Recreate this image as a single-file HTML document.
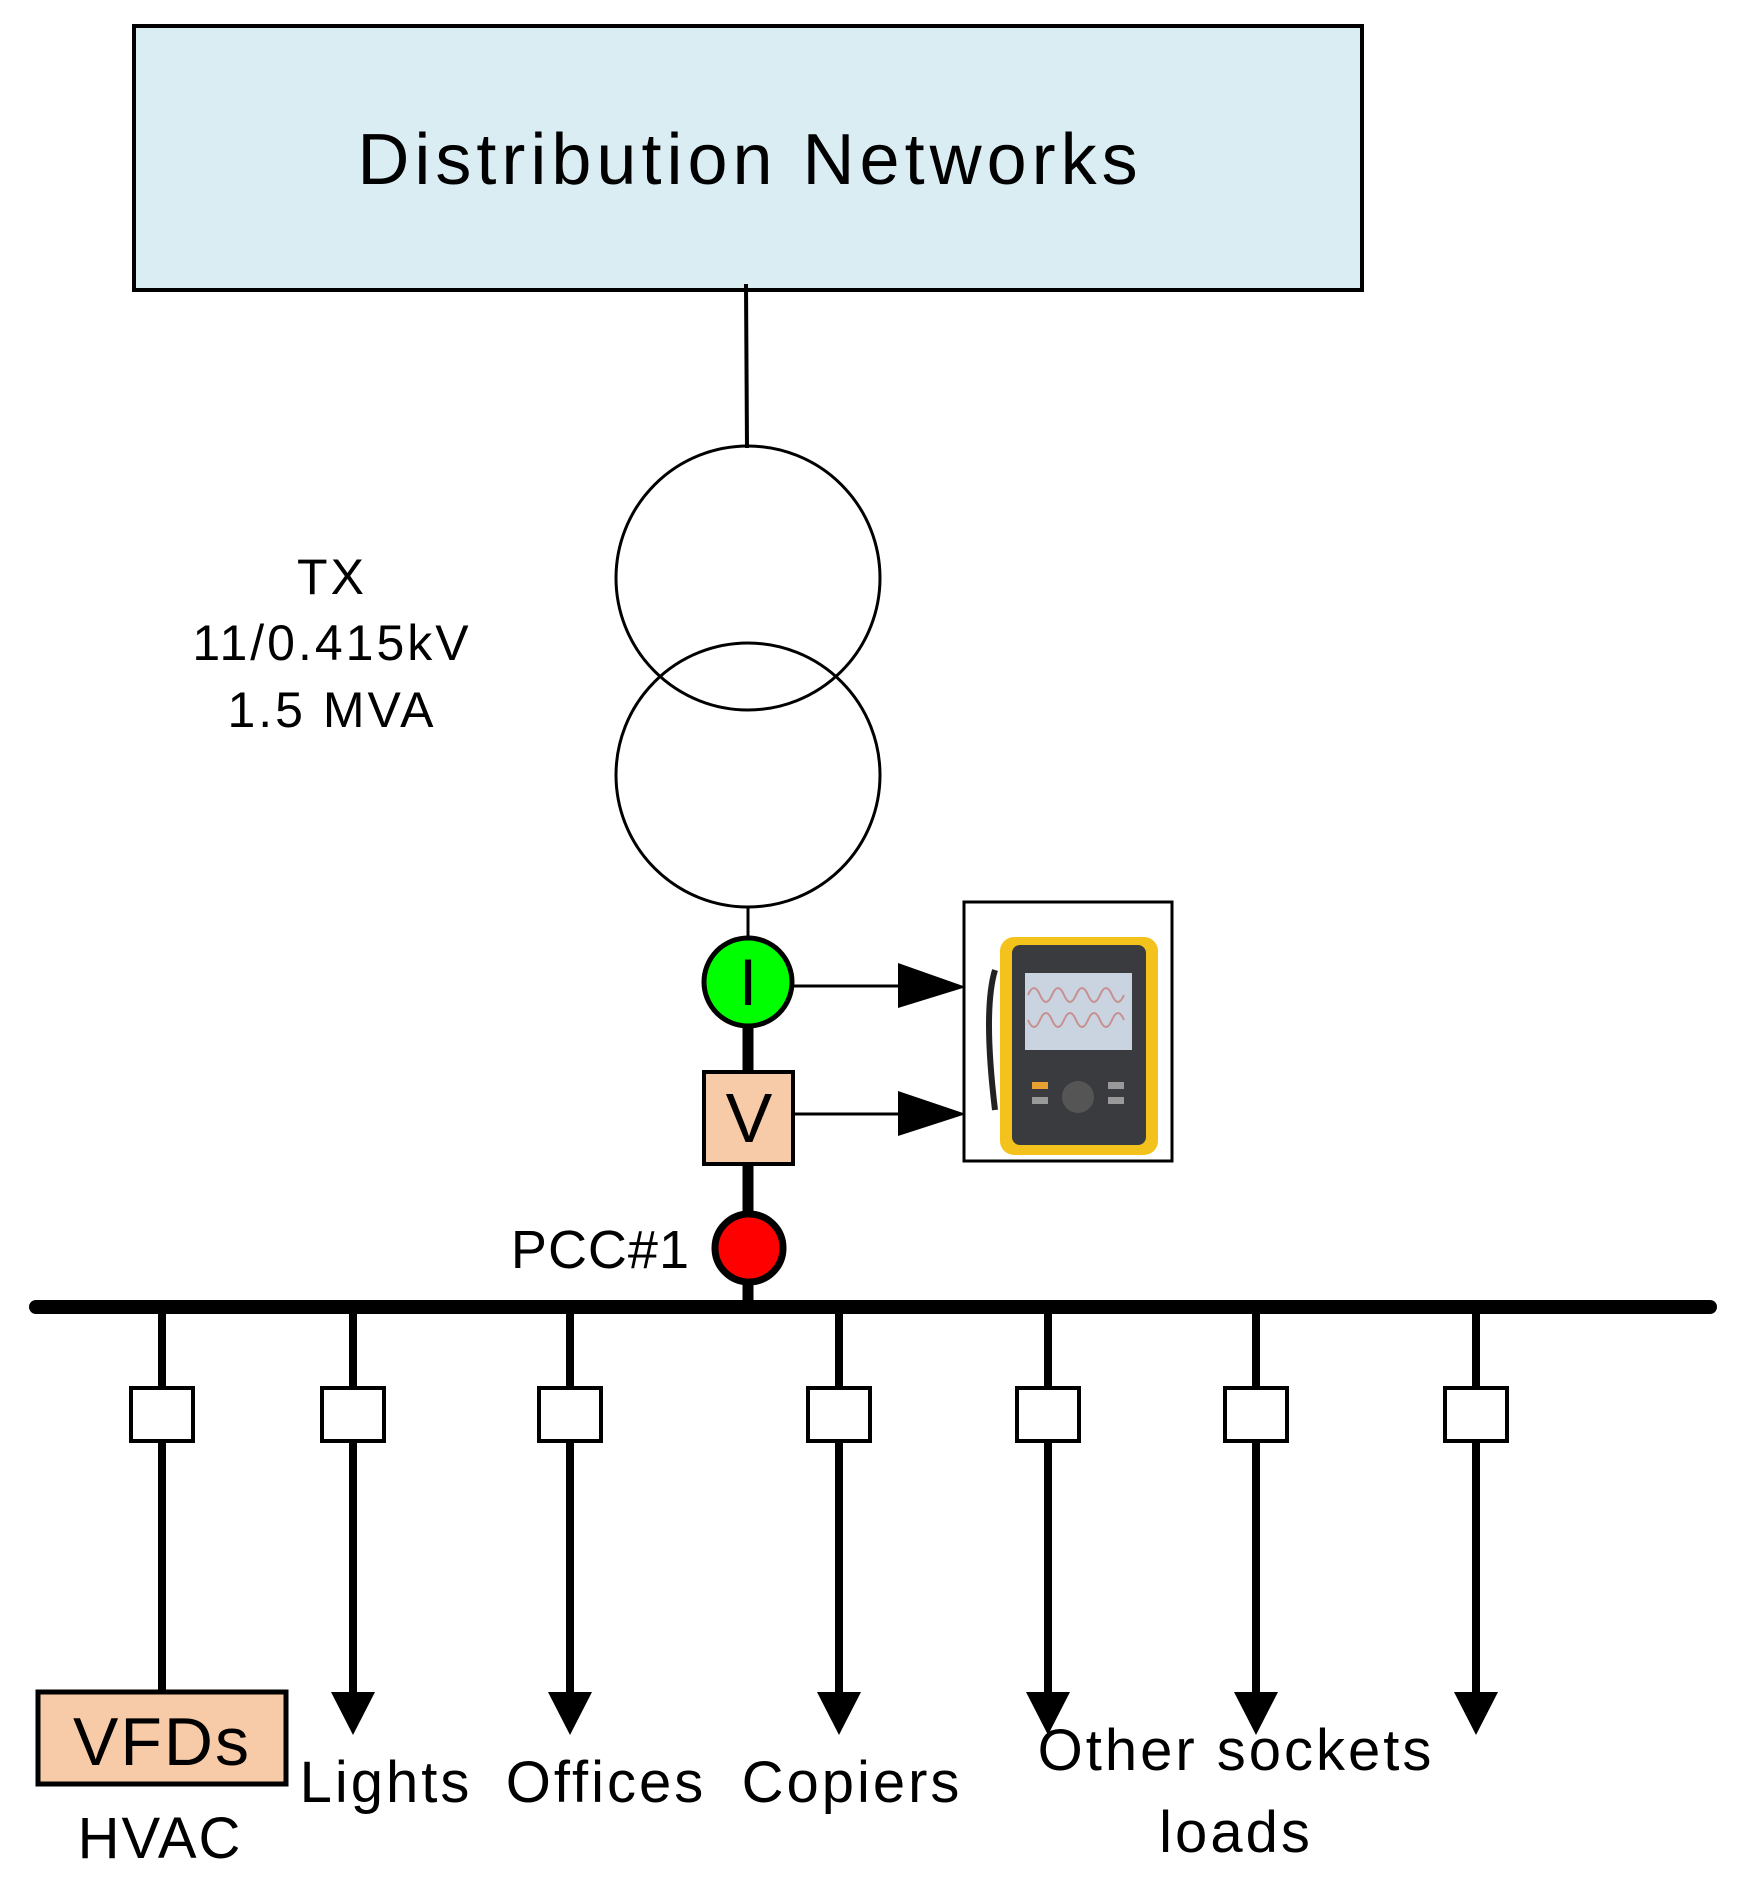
<!DOCTYPE html>
<html><head><meta charset="utf-8"><style>
html,body{margin:0;padding:0;background:#fff;}
svg{display:block;}
text{font-family:"Liberation Sans",sans-serif;fill:#000;}
</style></head><body>
<svg width="1739" height="1884" viewBox="0 0 1739 1884" xmlns="http://www.w3.org/2000/svg">
<rect x="134" y="26" width="1228" height="264" fill="#daedf3" stroke="#000" stroke-width="4"/>
<text x="750" y="184" font-size="72" text-anchor="middle" letter-spacing="5">Distribution Networks</text>
<line x1="746" y1="284" x2="747" y2="448" stroke="#000" stroke-width="4"/>
<circle cx="748" cy="578" r="132" fill="none" stroke="#000" stroke-width="3"/>
<circle cx="748" cy="775" r="132" fill="none" stroke="#000" stroke-width="3"/>
<text font-size="50" text-anchor="middle" letter-spacing="3"><tspan x="332" y="594">TX</tspan><tspan x="332" y="660">11/0.415kV</tspan><tspan x="332" y="727">1.5 MVA</tspan></text>
<line x1="748" y1="907" x2="748" y2="940" stroke="#000" stroke-width="3"/>
<line x1="748" y1="1020" x2="748" y2="1300" stroke="#000" stroke-width="11"/>
<circle cx="748" cy="982" r="44" fill="#00ff00" stroke="#000" stroke-width="5"/>
<text x="748" y="1005" font-size="66" text-anchor="middle">I</text>
<rect x="704" y="1072" width="89" height="92" fill="#f8cba8" stroke="#000" stroke-width="4"/>
<text x="749" y="1142" font-size="70" text-anchor="middle">V</text>
<circle cx="749" cy="1248" r="34" fill="#ff0000" stroke="#000" stroke-width="7"/>
<text x="690" y="1268" font-size="54" text-anchor="end" letter-spacing="1">PCC#1</text>
<line x1="36" y1="1307" x2="1710" y2="1307" stroke="#000" stroke-width="14" stroke-linecap="round"/>
<line x1="793" y1="986" x2="900" y2="986" stroke="#000" stroke-width="3"/>
<polygon points="898,963 966,987 898,1008" fill="#000"/>
<line x1="793" y1="1114" x2="900" y2="1114" stroke="#000" stroke-width="3"/>
<polygon points="898,1091 966,1114 898,1136" fill="#000"/>
<rect x="964" y="902" width="208" height="259" fill="#fff" stroke="#000" stroke-width="3"/>
<rect x="1000" y="937" width="158" height="218" rx="14" fill="#f4c21c"/>
<rect x="1012" y="945" width="134" height="200" rx="8" fill="#3a3b3e"/>
<rect x="1025" y="973" width="107" height="77" fill="#c9d4e0"/>
<path d="M1028 995 q6 -14 12 0 t12 0 t12 0 t12 0 t12 0 t12 0 t12 0 t12 0 M1028 1020 q6 14 12 0 t12 0 t12 0 t12 0 t12 0 t12 0 t12 0 t12 0" fill="none" stroke="#c89090" stroke-width="2"/>
<path d="M995 970 q-12 40 0 140" fill="none" stroke="#222" stroke-width="6"/>
<circle cx="1078" cy="1097" r="16" fill="#555"/>
<rect x="1032" y="1082" width="16" height="7" fill="#e8a030"/>
<rect x="1108" y="1082" width="16" height="7" fill="#999"/>
<rect x="1108" y="1097" width="16" height="7" fill="#999"/>
<rect x="1032" y="1097" width="16" height="7" fill="#999"/>
<g stroke="#000" stroke-width="8">
<line x1="162" y1="1307" x2="162" y2="1692"/>
<line x1="353" y1="1307" x2="353" y2="1700"/>
<line x1="570" y1="1307" x2="570" y2="1700"/>
<line x1="839" y1="1307" x2="839" y2="1700"/>
<line x1="1048" y1="1307" x2="1048" y2="1700"/>
<line x1="1256" y1="1307" x2="1256" y2="1700"/>
<line x1="1476" y1="1307" x2="1476" y2="1700"/>
</g>
<g fill="#000">
<polygon points="331,1692 375,1692 353,1735"/>
<polygon points="548,1692 592,1692 570,1735"/>
<polygon points="817,1692 861,1692 839,1735"/>
<polygon points="1026,1692 1070,1692 1048,1735"/>
<polygon points="1234,1692 1278,1692 1256,1735"/>
<polygon points="1454,1692 1498,1692 1476,1735"/>
</g>
<g fill="#fff" stroke="#000" stroke-width="4">
<rect x="131" y="1388" width="62" height="53"/>
<rect x="322" y="1388" width="62" height="53"/>
<rect x="539" y="1388" width="62" height="53"/>
<rect x="808" y="1388" width="62" height="53"/>
<rect x="1017" y="1388" width="62" height="53"/>
<rect x="1225" y="1388" width="62" height="53"/>
<rect x="1445" y="1388" width="62" height="53"/>
</g>
<rect x="38" y="1692" width="248" height="92" fill="#f8cba8" stroke="#000" stroke-width="5"/>
<text x="162" y="1765" font-size="68" text-anchor="middle" letter-spacing="2">VFDs</text>
<text x="160" y="1858" font-size="58" text-anchor="middle" letter-spacing="2">HVAC</text>
<text x="386" y="1802" font-size="58" text-anchor="middle" letter-spacing="3">Lights</text>
<text x="606" y="1802" font-size="58" text-anchor="middle" letter-spacing="3">Offices</text>
<text x="852" y="1802" font-size="58" text-anchor="middle" letter-spacing="3">Copiers</text>
<text x="1236" y="1770" font-size="58" text-anchor="middle" letter-spacing="3">Other sockets</text>
<text x="1236" y="1852" font-size="58" text-anchor="middle" letter-spacing="3">loads</text>
</svg>
</body></html>
